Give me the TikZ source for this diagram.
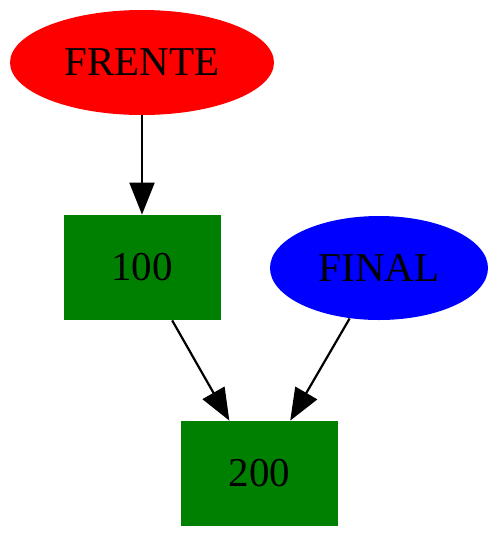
\documentclass[tikz,border=0pt]{standalone}
\usepackage{fontspec}
\setmainfont{Liberation Serif}
\usetikzlibrary{arrows.meta,positioning,shapes.geometric}
\definecolor{gvgreen}{RGB}{0,128,0}

\begin{document}
\begin{tikzpicture}[
		x=0.5pt, y=-0.5pt,
		>={Triangle[length=16pt, width=12.5pt]},
		every node/.style={font=\fontsize{20.5}{24}\selectfont, inner sep=0pt},
		oval/.style={ellipse, minimum width=132pt, minimum height=52.5pt},
		front/.style={oval, fill=red},
		back/.style={oval, fill=blue, minimum width=109pt, minimum height=52pt},
		elem/.style={rectangle, fill=gvgreen, minimum width=78.5pt, minimum height=52.5pt},
		link/.style={->, line width=1.1pt}
		]
		
		\useasboundingbox (0,0) rectangle (500,537);
		
		% -------------------------
		% Nodes
		% -------------------------
		\node[front] (frente) at (142,62.5) {FRENTE};
		\node[elem] (n100) at (142,267.5) {100};
		\node[back] (final) at (379,268) {FINAL};
		\node[elem] (n200) at (259.5,473.5) {200};
		
		% -------------------------
		% Arrows
		% -------------------------
		\draw[link] (frente) -- (n100);
		\draw[link] (n100) -- (n200);
		\draw[link] (final) -- (n200);
		
	\end{tikzpicture}
\end{document}
